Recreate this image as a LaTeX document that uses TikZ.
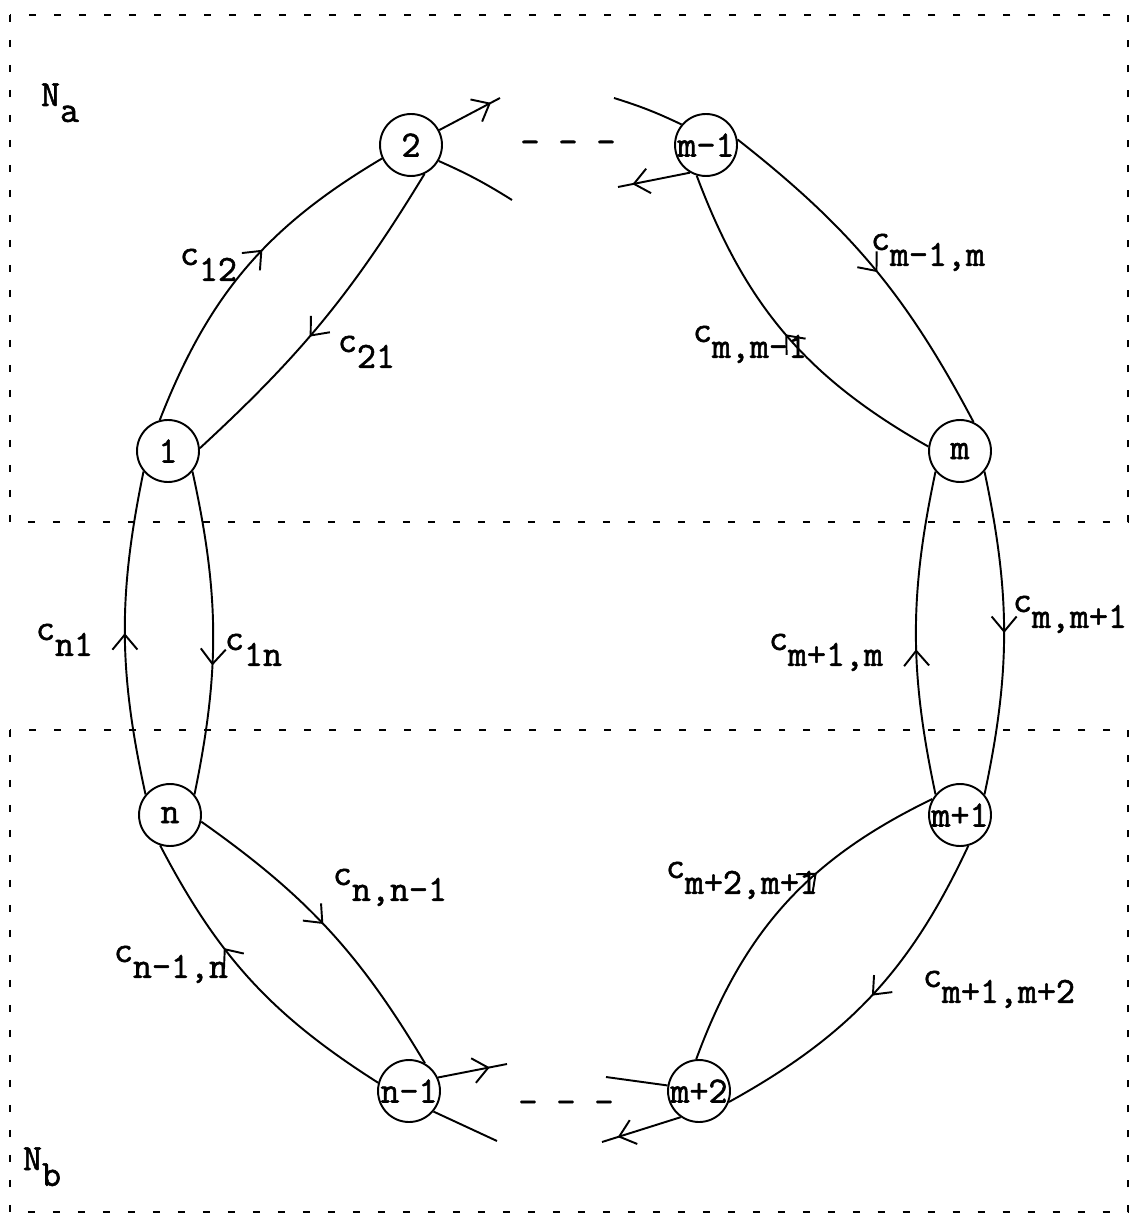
\documentclass[tikz,border=0pt]{standalone}
\usepackage{fontspec}
\setmonofont{Latin Modern Mono}[FakeBold=1.5]
\usetikzlibrary{arrows.meta,decorations.markings}
\newcommand{\tsub}[2]{#1\raisebox{-0.43em}{#2}}
\begin{document}
\begin{tikzpicture}[x=0.02cm,y=-0.02cm,
  font=\fontsize{21}{25}\selectfont\ttfamily,
  line width=1.1pt,
  state/.style={draw, circle, minimum size=1.24cm, inner sep=0pt},
  lbl/.style={anchor=base west, inner sep=0pt},
  region/.style={line width=1.4pt, dash pattern=on 0.14cm off 0.36cm},
  midarrow/.style={postaction={decorate}, decoration={markings,
    mark=at position #1 with {\arrow{Straight Barb[length=3mm,width=5mm]}}}},
  midarrow/.default=0.5]
\useasboundingbox (0,0) rectangle (1136,1219);
\draw[region] (10,15) rectangle (1128,522);
\draw[region] (10,730) rectangle (1128,1212);
\node[lbl] (na) at (40,106) {\tsub{N}{a}};
\node[lbl] (nb) at (22,1170) {\tsub{N}{b}};
\node[state] (v2) at (411,145) {2};
\node[state] (vm1) at (706,145) {\makebox[0pt]{m-1}};
\node[state] (v1) at (168,451) {1};
\node[state] (vm) at (960,451) {m};
\node[state] (vn) at (170,815) {n};
\node[state] (vmp1) at (960,815) {\makebox[0pt]{m+1}};
\node[state] (vn1) at (409,1091) {\makebox[0pt]{n-1}};
\node[state] (vmp2) at (699,1091) {\makebox[0pt]{m+2}};
\node (gapa) at (568,147) {- - -};
\node (gapb) at (566,1107) {- - -};
\draw[midarrow=0.57] (v1.105) to[bend left=19] (v2.205);
\draw[midarrow=0.56] (v2.-65) to[bend left=8] (v1.5);
\draw[midarrow=0.52] (vm1.10) to[bend left=12] (vm.65);
\draw[midarrow=0.5] (vm.172) to[bend left=20] (vm1.-107);
\draw[midarrow=0.6] (v1.-40) to[bend left=12] (vn.40);
\draw[midarrow=0.5] (vn.140) to[bend left=12] (v1.-140);
\draw[midarrow=0.5] (vm.-40) to[bend left=12] (vmp1.40);
\draw[midarrow=0.45] (vmp1.140) to[bend left=12] (vm.-140);
\draw[midarrow=0.48] (vn.-12) to[bend left=12] (vn1.60);
\draw[midarrow=0.63] (vn1.165) to[bend left=15] (vn.-108);
\draw[midarrow=0.5] (vmp1.-75) to[bend left=18] (vmp2.-20);
\draw[midarrow=0.62] (vmp2.95) to[bend left=22] (vmp1.150);
\coordinate (a2o) at (500,98);
\coordinate (a2i) at (512,200);
\coordinate (am1i) at (614,98);
\coordinate (am1o) at (618,187);
\coordinate (an1o) at (507,1064);
\coordinate (an1i) at (497,1141);
\coordinate (amp2i) at (606,1077);
\coordinate (amp2o) at (602,1142);
\draw[midarrow=0.85] (v2) -- (a2o);
\draw (v2.-30) to[bend left=4] (a2i);
\draw (am1i) to[bend left=4] (vm1.140);
\draw[midarrow=0.8] (vm1.-120) -- (am1o);
\draw[midarrow=0.75] (vn1.25) -- (an1o);
\draw (vn1.-40) -- (an1i);
\draw (amp2i) -- (vmp2.170);
\draw[midarrow=0.8] (vmp2.-125) -- (amp2o);
\node[lbl] (l12) at (179,265) {\tsub{c}{12}};
\node[lbl] (l21) at (337,352) {\tsub{c}{21}};
\node[lbl] (lm1m) at (870,250) {\tsub{c}{m-1,m}};
\node[lbl] (lmm1) at (692,342) {\tsub{c}{m,m-1}};
\node[lbl] (ln1) at (35,640) {\tsub{c}{n1}};
\node[lbl] (l1n) at (224,650) {\tsub{c}{1n}};
\node[lbl] (lmp1m) at (768,650) {\tsub{c}{m+1,m}};
\node[lbl] (lmmp1) at (1012,612) {\tsub{c}{m,m+1}};
\node[lbl] (lnn1) at (332,885) {\tsub{c}{n,n-1}};
\node[lbl] (ln1n) at (113,962) {\tsub{c}{n-1,n}};
\node[lbl] (lmp2) at (665,878) {\tsub{c}{m+2,m+1}};
\node[lbl] (lmp12) at (922,987) {\tsub{c}{m+1,m+2}};
\end{tikzpicture}
\end{document}
